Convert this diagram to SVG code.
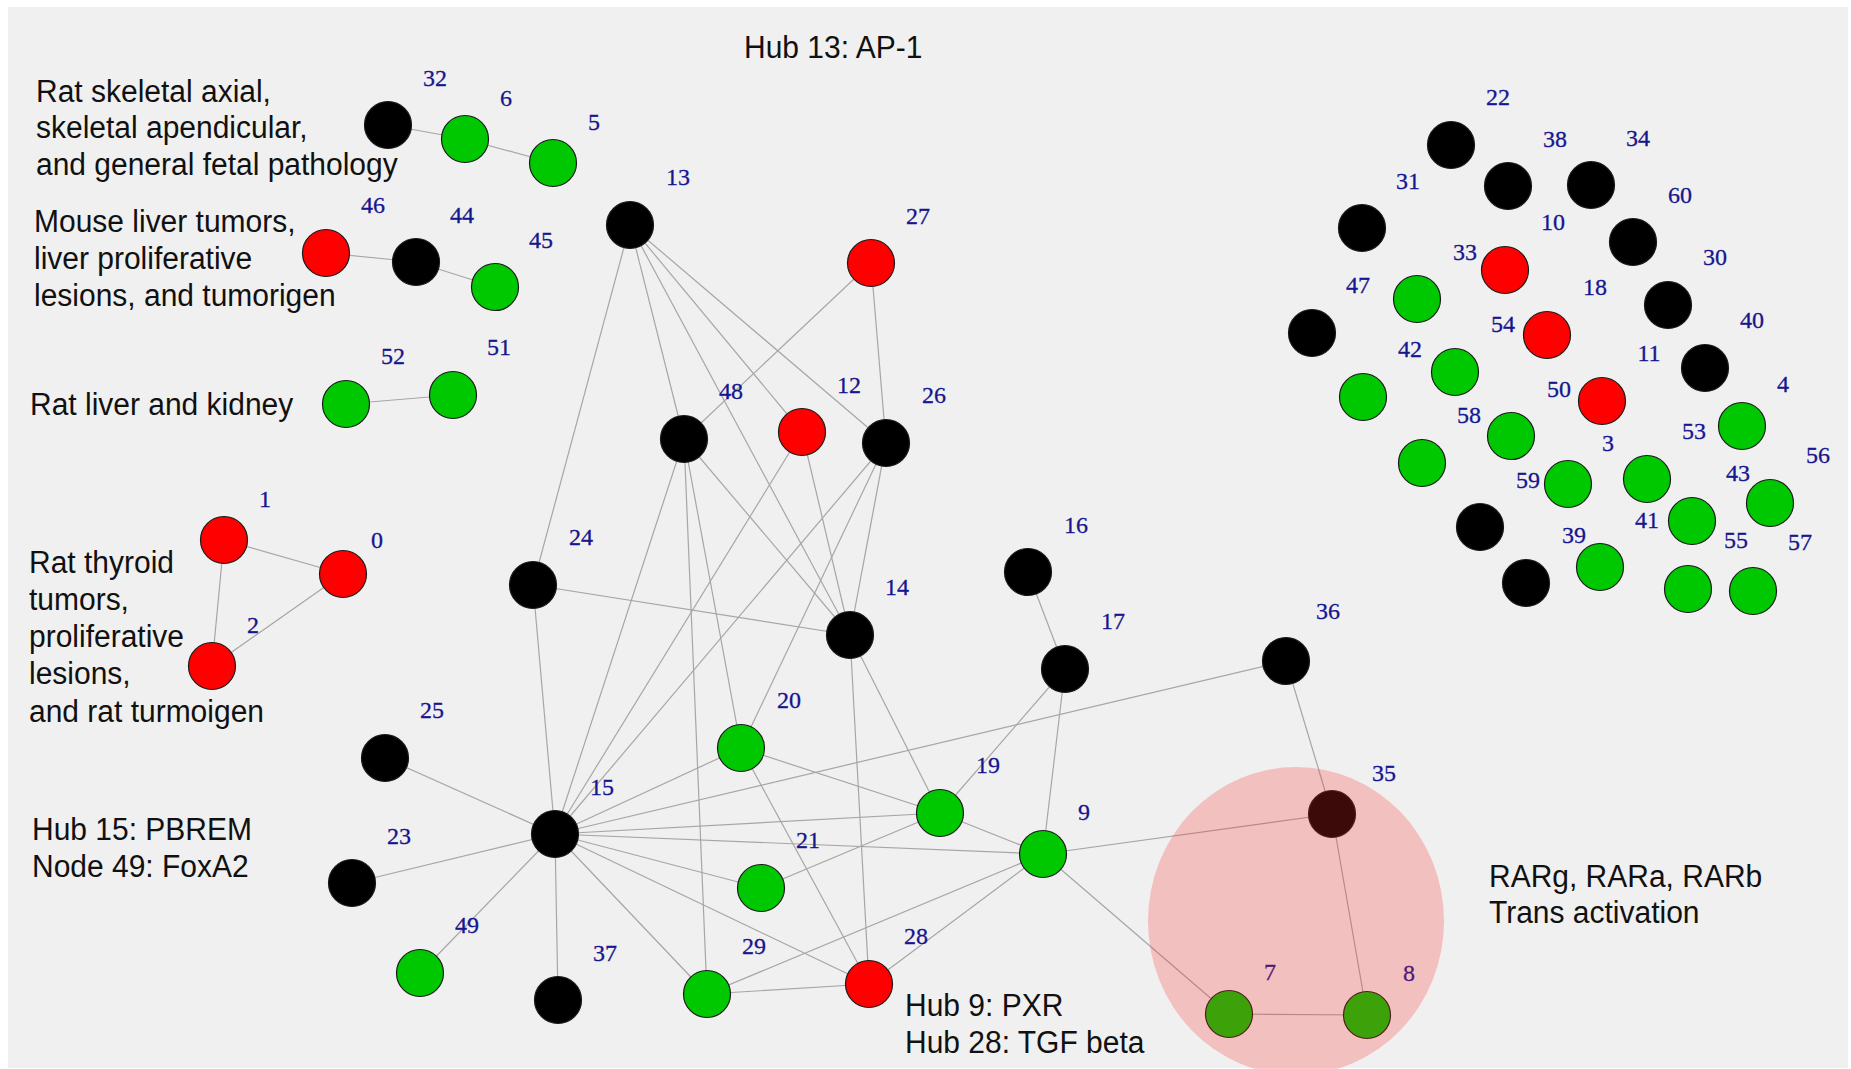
<svg xmlns="http://www.w3.org/2000/svg" width="1851" height="1069" viewBox="0 0 1851 1069">
<style>
.bg{fill:#f0f0f0}
.e{stroke:#a6a6a6;stroke-width:1.2;fill:none}
.n{stroke:#1a1a1a;stroke-width:1.2}
.k{fill:#000000}
.g{fill:#00c800}
.r{fill:#ff0000}
.lbl{font-family:"Liberation Serif","Times New Roman",serif;font-size:24px;fill:#16168f;stroke:#16168f;stroke-width:0.3;text-anchor:middle}
.t{font-family:"Liberation Sans",Arial,sans-serif;font-size:30px;fill:#111111}
.ov{fill:#ff2828;fill-opacity:0.24}
</style>
<rect x="0" y="0" width="1851" height="1069" fill="#ffffff"/>
<rect class="bg" x="8" y="7" width="1840" height="1061"/>

<g id="texts">
<text class="t" x="744" y="58" transform="matrix(1 0 0 1.07 0 -4.06)">Hub 13: AP-1</text>
<text class="t" x="36" y="102" transform="matrix(1 0 0 1.07 0 -7.14)">Rat skeletal axial,</text>
<text class="t" x="36" y="138" transform="matrix(1 0 0 1.07 0 -9.66)">skeletal apendicular,</text>
<text class="t" x="36" y="175" transform="matrix(1 0 0 1.07 0 -12.25)">and general fetal pathology</text>
<text class="t" x="34" y="232" transform="matrix(1 0 0 1.07 0 -16.24)">Mouse liver tumors,</text>
<text class="t" x="34" y="269" transform="matrix(1 0 0 1.07 0 -18.83)">liver proliferative</text>
<text class="t" x="34" y="306" transform="matrix(1 0 0 1.07 0 -21.42)">lesions, and tumorigen</text>
<text class="t" x="30" y="415" transform="matrix(1 0 0 1.07 0 -29.05)">Rat liver and kidney</text>
<text class="t" x="29" y="573" transform="matrix(1 0 0 1.07 0 -40.11)">Rat thyroid</text>
<text class="t" x="29" y="610" transform="matrix(1 0 0 1.07 0 -42.7)">tumors,</text>
<text class="t" x="29" y="647" transform="matrix(1 0 0 1.07 0 -45.29)">proliferative</text>
<text class="t" x="29" y="684" transform="matrix(1 0 0 1.07 0 -47.88)">lesions,</text>
<text class="t" x="29" y="722" transform="matrix(1 0 0 1.07 0 -50.54)">and rat turmoigen</text>
<text class="t" x="32" y="840" transform="matrix(1 0 0 1.07 0 -58.8)">Hub 15: PBREM</text>
<text class="t" x="32" y="877" transform="matrix(1 0 0 1.07 0 -61.39)">Node 49: FoxA2</text>
<text class="t" x="905" y="1016" transform="matrix(1 0 0 1.07 0 -71.12)">Hub 9: PXR</text>
<text class="t" x="905" y="1053" transform="matrix(1 0 0 1.07 0 -73.71)">Hub 28: TGF beta</text>
<text class="t" x="1489" y="887" transform="matrix(1 0 0 1.07 0 -62.09)">RARg, RARa, RARb</text>
<text class="t" x="1489" y="923" transform="matrix(1 0 0 1.07 0 -64.61)">Trans activation</text>
</g>

<g id="connectors" class="e">
<line x1="388" y1="125" x2="465" y2="139"/>
<line x1="465" y1="139" x2="553" y2="163"/>
<line x1="326" y1="253" x2="416" y2="262"/>
<line x1="416" y1="262" x2="495" y2="287"/>
<line x1="346" y1="404" x2="453" y2="395"/>
<line x1="224" y1="540" x2="343" y2="574"/>
<line x1="343" y1="574" x2="212" y2="666"/>
<line x1="224" y1="540" x2="212" y2="666"/>
<line x1="630" y1="225" x2="533" y2="585"/>
<line x1="630" y1="225" x2="684" y2="439"/>
<line x1="630" y1="225" x2="850" y2="635"/>
<line x1="630" y1="225" x2="802" y2="432"/>
<line x1="630" y1="225" x2="886" y2="443"/>
<line x1="871" y1="263" x2="684" y2="439"/>
<line x1="871" y1="263" x2="886" y2="443"/>
<line x1="684" y1="439" x2="555" y2="834"/>
<line x1="684" y1="439" x2="707" y2="994"/>
<line x1="684" y1="439" x2="741" y2="748"/>
<line x1="684" y1="439" x2="850" y2="635"/>
<line x1="802" y1="432" x2="555" y2="834"/>
<line x1="802" y1="432" x2="850" y2="635"/>
<line x1="886" y1="443" x2="555" y2="834"/>
<line x1="886" y1="443" x2="741" y2="748"/>
<line x1="886" y1="443" x2="850" y2="635"/>
<line x1="533" y1="585" x2="850" y2="635"/>
<line x1="533" y1="585" x2="555" y2="834"/>
<line x1="850" y1="635" x2="869" y2="984"/>
<line x1="850" y1="635" x2="940" y2="813"/>
<line x1="1028" y1="572" x2="1065" y2="669"/>
<line x1="1065" y1="669" x2="940" y2="813"/>
<line x1="1065" y1="669" x2="1043" y2="854"/>
<line x1="1286" y1="661" x2="555" y2="834"/>
<line x1="1286" y1="661" x2="1332" y2="814"/>
<line x1="555" y1="834" x2="385" y2="758"/>
<line x1="555" y1="834" x2="352" y2="883"/>
<line x1="555" y1="834" x2="420" y2="973"/>
<line x1="555" y1="834" x2="558" y2="1000"/>
<line x1="555" y1="834" x2="741" y2="748"/>
<line x1="555" y1="834" x2="940" y2="813"/>
<line x1="555" y1="834" x2="1043" y2="854"/>
<line x1="555" y1="834" x2="761" y2="888"/>
<line x1="555" y1="834" x2="869" y2="984"/>
<line x1="555" y1="834" x2="707" y2="994"/>
<line x1="741" y1="748" x2="940" y2="813"/>
<line x1="741" y1="748" x2="869" y2="984"/>
<line x1="761" y1="888" x2="940" y2="813"/>
<line x1="940" y1="813" x2="1043" y2="854"/>
<line x1="1043" y1="854" x2="707" y2="994"/>
<line x1="1043" y1="854" x2="869" y2="984"/>
<line x1="1043" y1="854" x2="1332" y2="814"/>
<line x1="1043" y1="854" x2="1229" y2="1014"/>
<line x1="869" y1="984" x2="707" y2="994"/>
<line x1="1332" y1="814" x2="1367" y2="1015"/>
<line x1="1229" y1="1014" x2="1367" y2="1015"/>
</g>

<g id="nodes">
<g id="node-32"><circle class="n k" cx="388" cy="125" r="23.5"/><text class="lbl" x="435" y="86">32</text></g>
<g id="node-6"><circle class="n g" cx="465" cy="139" r="23.5"/><text class="lbl" x="506" y="106">6</text></g>
<g id="node-5"><circle class="n g" cx="553" cy="163" r="23.5"/><text class="lbl" x="594" y="130">5</text></g>
<g id="node-46"><circle class="n r" cx="326" cy="253" r="23.5"/><text class="lbl" x="373" y="213">46</text></g>
<g id="node-44"><circle class="n k" cx="416" cy="262" r="23.5"/><text class="lbl" x="462" y="223">44</text></g>
<g id="node-45"><circle class="n g" cx="495" cy="287" r="23.5"/><text class="lbl" x="541" y="248">45</text></g>
<g id="node-52"><circle class="n g" cx="346" cy="404" r="23.5"/><text class="lbl" x="393" y="364">52</text></g>
<g id="node-51"><circle class="n g" cx="453" cy="395" r="23.5"/><text class="lbl" x="499" y="355">51</text></g>
<g id="node-1"><circle class="n r" cx="224" cy="540" r="23.5"/><text class="lbl" x="265" y="507">1</text></g>
<g id="node-0"><circle class="n r" cx="343" cy="574" r="23.5"/><text class="lbl" x="377" y="548">0</text></g>
<g id="node-2"><circle class="n r" cx="212" cy="666" r="23.5"/><text class="lbl" x="253" y="633">2</text></g>

<g id="node-13"><circle class="n k" cx="630" cy="225" r="23.5"/><text class="lbl" x="678" y="185">13</text></g>
<g id="node-27"><circle class="n r" cx="871" cy="263" r="23.5"/><text class="lbl" x="918" y="224">27</text></g>
<g id="node-48"><circle class="n k" cx="684" cy="439" r="23.5"/><text class="lbl" x="731" y="399">48</text></g>
<g id="node-12"><circle class="n r" cx="802" cy="432" r="23.5"/><text class="lbl" x="849" y="393">12</text></g>
<g id="node-26"><circle class="n k" cx="886" cy="443" r="23.5"/><text class="lbl" x="934" y="403">26</text></g>
<g id="node-24"><circle class="n k" cx="533" cy="585" r="23.5"/><text class="lbl" x="581" y="545">24</text></g>
<g id="node-14"><circle class="n k" cx="850" cy="635" r="23.5"/><text class="lbl" x="897" y="595">14</text></g>
<g id="node-16"><circle class="n k" cx="1028" cy="572" r="23.5"/><text class="lbl" x="1076" y="533">16</text></g>
<g id="node-17"><circle class="n k" cx="1065" cy="669" r="23.5"/><text class="lbl" x="1113" y="629">17</text></g>
<g id="node-36"><circle class="n k" cx="1286" cy="661" r="23.5"/><text class="lbl" x="1328" y="619">36</text></g>
<g id="node-20"><circle class="n g" cx="741" cy="748" r="23.5"/><text class="lbl" x="789" y="708">20</text></g>
<g id="node-25"><circle class="n k" cx="385" cy="758" r="23.5"/><text class="lbl" x="432" y="718">25</text></g>
<g id="node-15"><circle class="n k" cx="555" cy="834" r="23.5"/><text class="lbl" x="602" y="795">15</text></g>
<g id="node-19"><circle class="n g" cx="940" cy="813" r="23.5"/><text class="lbl" x="988" y="773">19</text></g>
<g id="node-9"><circle class="n g" cx="1043" cy="854" r="23.5"/><text class="lbl" x="1084" y="820">9</text></g>
<g id="node-23"><circle class="n k" cx="352" cy="883" r="23.5"/><text class="lbl" x="399" y="844">23</text></g>
<g id="node-21"><circle class="n g" cx="761" cy="888" r="23.5"/><text class="lbl" x="808" y="848">21</text></g>
<g id="node-49"><circle class="n g" cx="420" cy="973" r="23.5"/><text class="lbl" x="467" y="933">49</text></g>
<g id="node-37"><circle class="n k" cx="558" cy="1000" r="23.5"/><text class="lbl" x="605" y="961">37</text></g>
<g id="node-29"><circle class="n g" cx="707" cy="994" r="23.5"/><text class="lbl" x="754" y="954">29</text></g>
<g id="node-28"><circle class="n r" cx="869" cy="984" r="23.5"/><text class="lbl" x="916" y="944">28</text></g>
<g id="node-35"><circle class="n k" cx="1332" cy="814" r="23.5"/><text class="lbl" x="1384" y="781">35</text></g>
<g id="node-7"><circle class="n g" cx="1229" cy="1014" r="23.5"/><text class="lbl" x="1270" y="980">7</text></g>
<g id="node-8"><circle class="n g" cx="1367" cy="1015" r="23.5"/><text class="lbl" x="1409" y="981">8</text></g>

<g id="node-22"><circle class="n k" cx="1451" cy="145" r="23.5"/><text class="lbl" x="1498" y="105">22</text></g>
<g id="node-38"><circle class="n k" cx="1508" cy="186" r="23.5"/><text class="lbl" x="1555" y="147">38</text></g>
<g id="node-34"><circle class="n k" cx="1591" cy="185" r="23.5"/><text class="lbl" x="1638" y="146">34</text></g>
<g id="node-31"><circle class="n k" cx="1362" cy="228" r="23.5"/><text class="lbl" x="1408" y="189">31</text></g>
<g id="node-60"><circle class="n k" cx="1633" cy="242" r="23.5"/><text class="lbl" x="1680" y="203">60</text></g>
<g id="node-10"><circle class="n r" cx="1505" cy="270" r="23.5"/><text class="lbl" x="1553" y="230">10</text></g>
<g id="node-33"><circle class="n g" cx="1417" cy="299" r="23.5"/><text class="lbl" x="1465" y="260">33</text></g>
<g id="node-47"><circle class="n k" cx="1312" cy="333" r="23.5"/><text class="lbl" x="1358" y="293">47</text></g>
<g id="node-30"><circle class="n k" cx="1668" cy="305" r="23.5"/><text class="lbl" x="1715" y="265">30</text></g>
<g id="node-18"><circle class="n r" cx="1547" cy="335" r="23.5"/><text class="lbl" x="1595" y="295">18</text></g>
<g id="node-54"><circle class="n g" cx="1455" cy="372" r="23.5"/><text class="lbl" x="1503" y="332">54</text></g>
<g id="node-42"><circle class="n g" cx="1363" cy="397" r="23.5"/><text class="lbl" x="1410" y="357">42</text></g>
<g id="node-40"><circle class="n k" cx="1705" cy="368" r="23.5"/><text class="lbl" x="1752" y="328">40</text></g>
<g id="node-11"><circle class="n r" cx="1602" cy="401" r="23.5"/><text class="lbl" x="1649" y="361">11</text></g>
<g id="node-4"><circle class="n g" cx="1742" cy="426" r="23.5"/><text class="lbl" x="1783" y="392">4</text></g>
<g id="node-50"><circle class="n g" cx="1511" cy="436" r="23.5"/><text class="lbl" x="1559" y="397">50</text></g>
<g id="node-58"><circle class="n g" cx="1422" cy="463" r="23.5"/><text class="lbl" x="1469" y="423">58</text></g>
<g id="node-53"><circle class="n g" cx="1647" cy="479" r="23.5"/><text class="lbl" x="1694" y="439">53</text></g>
<g id="node-3"><circle class="n g" cx="1568" cy="484" r="23.5"/><text class="lbl" x="1608" y="451">3</text></g>
<g id="node-56"><circle class="n g" cx="1770" cy="503" r="23.5"/><text class="lbl" x="1818" y="463">56</text></g>
<g id="node-43"><circle class="n g" cx="1692" cy="521" r="23.5"/><text class="lbl" x="1738" y="481">43</text></g>
<g id="node-59"><circle class="n k" cx="1480" cy="527" r="23.5"/><text class="lbl" x="1528" y="488">59</text></g>
<g id="node-41"><circle class="n g" cx="1600" cy="567" r="23.5"/><text class="lbl" x="1647" y="528">41</text></g>
<g id="node-39"><circle class="n k" cx="1526" cy="583" r="23.5"/><text class="lbl" x="1574" y="543">39</text></g>
<g id="node-55"><circle class="n g" cx="1688" cy="589" r="23.5"/><text class="lbl" x="1736" y="548">55</text></g>
<g id="node-57"><circle class="n g" cx="1753" cy="591" r="23.5"/><text class="lbl" x="1800" y="550">57</text></g>
</g>

<g id="highlight">
<ellipse class="ov" cx="1296" cy="921" rx="148" ry="154"/>
</g>
</svg>
